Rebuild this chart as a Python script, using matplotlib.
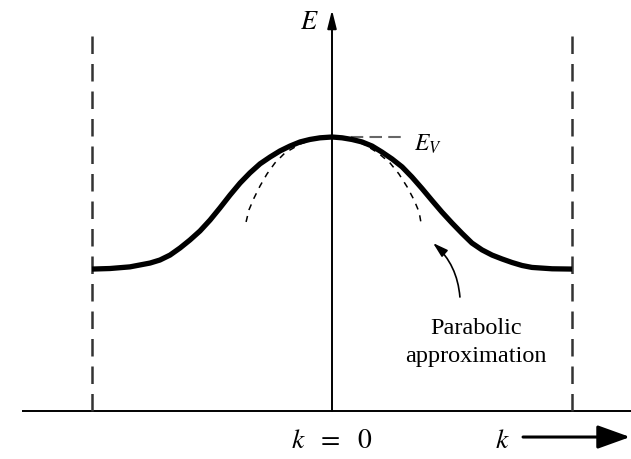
import matplotlib
matplotlib.use("Agg")
import matplotlib.pyplot as plt
from matplotlib.patches import FancyArrowPatch

plt.rcParams['mathtext.fontset'] = 'stix'

# valence band E(k) across the zone, k in units of the zone edge, E in units of E_V
k_band = [-1.0, -0.925, -0.842, -0.758, -0.717, -0.675, -0.633, -0.592, -0.55, -0.508,
          -0.467, -0.425, -0.383, -0.342, -0.3, -0.258, -0.217, -0.175, -0.133, -0.092,
          -0.05, 0.0, 0.042, 0.083, 0.125, 0.167, 0.208, 0.25, 0.292, 0.333,
          0.375, 0.417, 0.458, 0.5, 0.542, 0.583, 0.625, 0.667, 0.708, 0.75,
          0.792, 0.833, 0.917, 1.0]
E_band = [0.518, 0.520, 0.526, 0.540, 0.551, 0.569, 0.595, 0.624, 0.657, 0.697,
          0.741, 0.788, 0.832, 0.869, 0.902, 0.927, 0.949, 0.967, 0.982, 0.991,
          0.997, 1.0, 0.997, 0.991, 0.982, 0.967, 0.945, 0.920, 0.891, 0.854,
          0.812, 0.768, 0.726, 0.686, 0.648, 0.613, 0.588, 0.569, 0.555, 0.542,
          0.531, 0.524, 0.519, 0.518]

# parabolic fit near the band maximum
k_para = [-0.358, -0.346, -0.325, -0.300, -0.271, -0.238, -0.196, -0.133, -0.071, 0.0,
          0.075, 0.138, 0.192, 0.242, 0.279, 0.313, 0.342, 0.363, 0.371]
E_para = [0.690, 0.734, 0.777, 0.821, 0.865, 0.905, 0.942, 0.974, 0.993, 1.0,
          0.993, 0.971, 0.942, 0.905, 0.865, 0.818, 0.770, 0.726, 0.686]

zone_edges = [-1.0, 1.0]
E_V = 1.0

fig = plt.figure(figsize=(6.31, 4.59), dpi=100)
ax = fig.add_axes([0, 0, 1, 1])
ax.set_xlim(-1.3833, 1.2458)
ax.set_ylim(-0.1752, 1.5)
ax.axis('off')

# axes
ax.plot([-1.29, 1.2458], [0, 0], color='black', lw=1.4, solid_capstyle='butt')
ax.annotate('', xy=(0, 1.4635), xytext=(0, 0),
            arrowprops=dict(arrowstyle='-|>,head_length=1.0,head_width=0.25',
                            lw=1.4, color='black', mutation_scale=11,
                            shrinkA=0, shrinkB=0))
ax.text(-0.096, 1.42, '$E$', fontsize=19, ha='center', va='center')

# zone boundaries
for kb in zone_edges:
    ax.plot([kb, kb], [0, 1.398], color='#333333', lw=1.8, dashes=(7, 4))

ax.plot(k_para, E_para, color='black', lw=1.1, dashes=(4, 4), zorder=2)
ax.plot(k_band, E_band, color='black', lw=3.8, solid_joinstyle='round',
        solid_capstyle='butt', zorder=3)

ax.plot([0, 0.296], [E_V, E_V], color='#666666', lw=1.5, dashes=(6, 3))
ax.text(0.342, 0.975, '$E_V$', fontsize=17, ha='left', va='center')

ax.text(0.6, 0.25, 'Parabolic\napproximation', fontsize=17.5, family='Liberation Serif',
        ha='center', va='center', linespacing=1.4)
ax.add_patch(FancyArrowPatch((0.533, 0.416), (0.421, 0.613),
                             connectionstyle='arc3,rad=0.2',
                             arrowstyle='-|>,head_length=1.0,head_width=0.3',
                             mutation_scale=9, lw=1.2, color='black',
                             shrinkA=0, shrinkB=0))

ax.text(0, -0.106, r'$k\ \ =\ \ 0$', fontsize=20, ha='center', va='center')
ax.text(0.708, -0.106, '$k$', fontsize=20, ha='center', va='center')
ax.annotate('', xy=(1.242, -0.095), xytext=(0.796, -0.095),
            arrowprops=dict(arrowstyle='-|>,head_length=1.0,head_width=0.36',
                            lw=2.2, color='black', mutation_scale=20,
                            shrinkA=0, shrinkB=0))

fig.savefig('out.png', dpi=100)
